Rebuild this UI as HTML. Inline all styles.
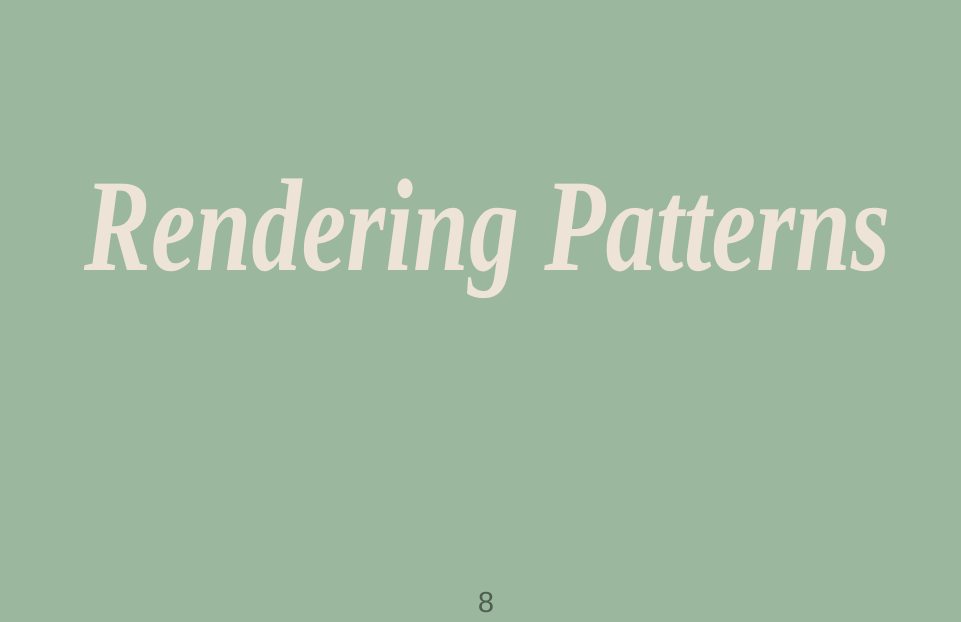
<!DOCTYPE html>
<html>
<head>
<meta charset="utf-8">
<style>
  html, body { margin: 0; padding: 0; }
  body { width: 961px; height: 622px; background: #9bb79e; overflow: hidden; position: relative; }
  svg { position: absolute; left: 0; top: 0; }
</style>
</head>
<body>
<svg width="961" height="622" viewBox="0 0 961 622">
  <rect x="0" y="0" width="961" height="622" fill="#9bb79e"/>
  <text x="84" y="270" font-family="Liberation Serif, serif" font-style="italic" font-weight="bold" font-size="132" fill="#ede3d6" textLength="806" lengthAdjust="spacingAndGlyphs">Rendering Patterns</text>
  <text x="486" y="612" text-anchor="middle" font-family="Liberation Sans, sans-serif" font-size="29" fill="#4e5e51">8</text>
</svg>
</body>
</html>
